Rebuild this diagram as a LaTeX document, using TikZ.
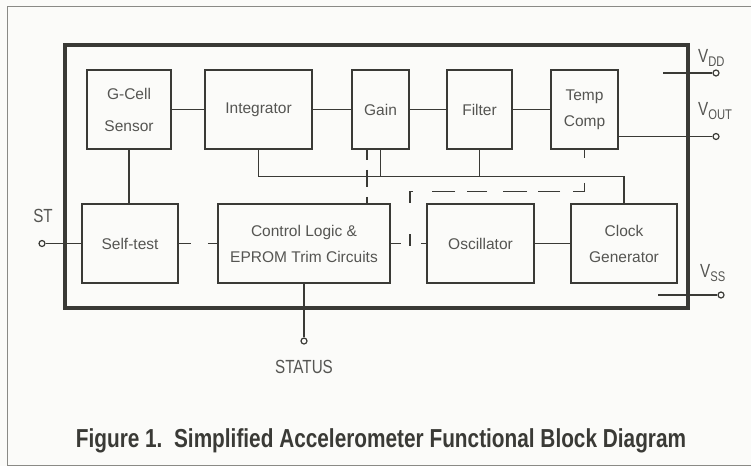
\documentclass[tikz,border=0pt]{standalone}
\usepackage{fontspec}
\setmainfont{Liberation Sans}
\newfontfamily\lblfont[FakeStretch=0.8]{Liberation Sans}
\usetikzlibrary{calc}
\definecolor{ink}{HTML}{3A3A36}
\definecolor{txt}{HTML}{555552}
\definecolor{frame}{HTML}{8A8A86}
\definecolor{paper}{HTML}{FBFBF9}
\begin{document}
\begin{tikzpicture}[x=1pt,y=-1pt,
  blk/.style={draw=ink, line width=1.6pt, inner sep=0pt, minimum height=79pt, align=center, text=txt, font=\fontsize{15.5}{26}\selectfont},
  wire/.style={draw=ink, line width=1.5pt},
  pin/.style={circle, draw=ink, line width=1.2pt, fill=paper, minimum size=6pt, inner sep=0pt},
  lbl/.style={text=txt, font=\lblfont\fontsize{19}{22}\selectfont, inner sep=0pt}]
\fill[paper] (0,0) rectangle (751,466);
\useasboundingbox (0,0) rectangle (751,466);
\draw[frame, line width=1pt] (751,6) -- (7,6) -- (7,465) -- (751,465);
\node[draw=ink, line width=3.5pt, minimum width=623pt, minimum height=263pt, inner sep=0pt] (chip) at (376.5,176.5) {};
% blocks
\node[blk, minimum width=84pt]  (gcell)  at (129,109.5)   {G-Cell\\[6pt]Sensor};
\node[blk, minimum width=107pt] (integ)  at (258.5,109.5) {Integrator};
\node[blk, minimum width=57pt]  (gain)   at (380.5,109.5) {Gain};
\node[blk, minimum width=65pt]  (filter) at (479.5,109.5) {Filter};
\node[blk, minimum width=67pt]  (tcomp)  at (584.5,109.5) {Temp\\Comp};
\node[blk, minimum width=96pt]  (self)   at (130,243.5)   {Self-test};
\node[blk, minimum width=172pt] (ctrl)   at (304,243.5)   {Control Logic \&\\EPROM Trim Circuits};
\node[blk, minimum width=107pt] (osc)    at (480.5,243.5) {Oscillator};
\node[blk, minimum width=106pt] (clk)    at (624,243.5)   {Clock\\Generator};
% signal chain
\draw[wire] (gcell) -- (integ);
\draw[wire] (integ) -- (gain);
\draw[wire] (gain) -- (filter);
\draw[wire] (filter) -- (tcomp);
\draw[wire] (gcell.south) -- (gcell.south |- self.north);
\draw[wire] (osc) -- (clk);
% bus
\draw[wire] (integ.south) -- ++(0,26.5) coordinate (bus) -| (clk.north);
\draw[wire] (gain.south) -- (gain.south |- bus);
\draw[wire] (filter.south) -- (filter.south |- bus);
% dashed links
\draw[wire, dash pattern=on 10pt off 10pt on 17pt off 10pt] ([xshift=-13.5pt]gain.south) -- ([xshift=-13.5pt]gain.south |- ctrl.north);
\draw[wire, dash pattern=on 8pt off 25pt on 20pt off 13pt on 22pt off 11pt on 24pt off 16pt on 20pt off 12pt on 23pt off 19pt on 15pt off 31pt on 12pt off 50pt]
  (tcomp.south) -- ++(0,41.5) -| ([xshift=19pt,yshift=-3.5pt]ctrl.east);
\draw[wire, dash pattern=on 10pt off 20pt] (ctrl.east) -- (osc.west);
\draw[wire, dash pattern=on 12pt off 17pt] (self.east) -- (ctrl.west);
% pins
\node[pin] (st) at (42,243.5) {};
\draw[wire] (st.east) -- (self.west);
\node[lbl, anchor=base] (stl) at (43,222) {ST};
\node[pin] (status) at (304,341) {};
\draw[wire] (status |- ctrl.south) -- (status.north);
\node[lbl, anchor=base] (statusl) at (304,373) {STATUS};
\node[pin] (vdd) at (716,73) {};
\coordinate (vddin) at (663,73);
\draw[wire] (vddin) -- (vdd.west);
\node[pin] (vout) at (716,136.5) {};
\draw[wire] ([yshift=-27pt]tcomp.east) -- (vout.west);
\node[pin] (vss) at (721,295) {};
\coordinate (vssin) at (658,295);
\draw[wire] (vssin) -- (vss.west);
\node[lbl, anchor=base west] (vddl) at (698,62) {V\raisebox{-4pt}{\fontsize{14}{14}\selectfont DD}};
\node[lbl, anchor=base west] (voutl) at (698,115) {V\raisebox{-4pt}{\fontsize{14}{14}\selectfont OUT}};
\node[lbl, anchor=base west] (vssl) at (700,277) {V\raisebox{-4pt}{\fontsize{14}{14}\selectfont SS}};
% caption
\node[text=ink, font=\lblfont\bfseries\fontsize{26}{30}\selectfont, anchor=base, inner sep=0pt] (cap) at (381,447) {Figure 1.\ \ Simplified Accelerometer Functional Block Diagram};
\end{tikzpicture}
\end{document}
